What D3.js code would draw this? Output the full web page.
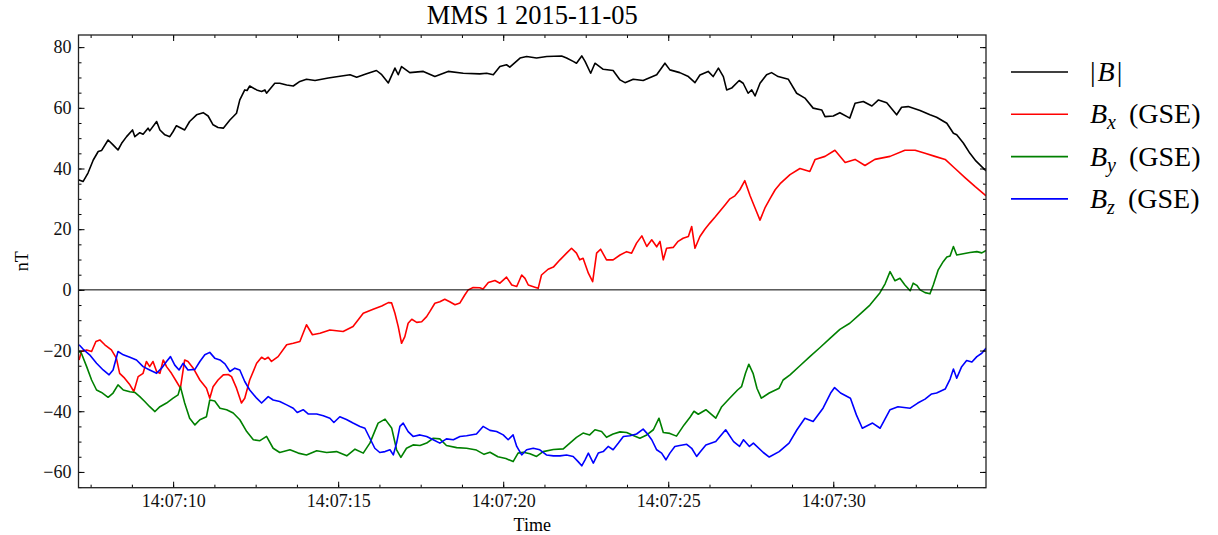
<!DOCTYPE html>
<html>
<head>
<meta charset="utf-8">
<script src="https://cdn.jsdelivr.net/npm/d3@7"></script>
<style>
  body { margin: 0; background: #fff; }
  svg text { font-family: "Liberation Serif", "Times New Roman", serif; fill: #000; }
</style>
</head>
<body>
<div id="chart"></div>
<script>
var width = 1218;
var height = 535;

// [seconds after 14:07:00 UT, nT]
var bTotal = [[7.13,36.3],[7.27,35.7],[7.42,38.5],[7.58,42.8],[7.73,45.6],[7.83,45.9],[8.03,49.4],[8.18,47.8],[8.33,46.1],[8.44,48.3],[8.59,50.5],[8.77,52.7],[8.84,50.5],[8.99,51.8],[9.09,51.3],[9.24,53.3],[9.29,52.4],[9.50,55.5],[9.60,52.7],[9.75,51.1],[9.90,50.5],[10.00,52.2],[10.10,54.1],[10.35,52.7],[10.50,55.5],[10.71,57.7],[10.91,58.4],[11.06,57.3],[11.21,54.4],[11.36,53.5],[11.52,53.3],[11.72,56.0],[11.92,58.2],[12.02,62.6],[12.17,65.9],[12.24,65.7],[12.32,67.2],[12.53,65.9],[12.68,65.4],[12.78,65.9],[12.83,64.8],[13.08,68.1],[13.23,68.1],[13.44,67.5],[13.64,67.2],[13.84,68.7],[14.04,69.4],[14.30,69.0],[14.70,69.8],[14.85,70.1],[15.36,70.9],[15.56,70.1],[15.86,71.2],[16.16,72.3],[16.32,70.9],[16.52,68.2],[16.72,73.1],[16.82,70.9],[16.92,73.6],[17.17,71.6],[17.58,72.0],[17.93,70.3],[18.33,72.0],[18.79,71.4],[19.29,71.2],[19.50,71.4],[19.70,70.9],[19.90,73.6],[20.10,74.2],[20.20,73.4],[20.51,76.4],[20.71,76.9],[21.01,76.4],[21.32,76.9],[21.77,77.1],[21.92,76.4],[22.12,75.3],[22.22,74.7],[22.38,77.1],[22.48,75.3],[22.65,71.4],[22.78,74.7],[23.03,72.7],[23.33,72.3],[23.54,69.2],[23.69,68.3],[23.94,69.4],[24.24,69.0],[24.65,70.9],[24.90,74.7],[25.05,72.5],[25.35,71.6],[25.61,70.3],[25.81,68.3],[25.96,70.8],[26.21,72.0],[26.36,70.3],[26.52,73.1],[26.67,70.3],[26.77,65.9],[26.92,66.5],[27.15,69.0],[27.27,68.1],[27.42,64.8],[27.53,65.9],[27.63,63.9],[27.78,68.1],[27.98,70.9],[28.13,71.6],[28.33,70.3],[28.64,69.4],[28.89,64.8],[29.14,63.2],[29.39,59.9],[29.65,59.3],[29.75,57.1],[30.00,57.3],[30.20,58.4],[30.50,56.6],[30.66,61.5],[30.91,62.1],[31.17,60.6],[31.37,62.6],[31.62,61.7],[31.92,57.7],[32.07,60.2],[32.27,60.4],[32.63,59.1],[32.93,57.7],[33.13,56.9],[33.44,54.9],[33.64,51.6],[33.74,51.1],[33.94,48.4],[34.14,45.0],[34.32,42.5],[34.63,39.2]];

var bX = [[7.15,-23.1],[7.22,-20.3],[7.38,-19.8],[7.53,-20.3],[7.66,-17.0],[7.78,-16.5],[7.93,-18.1],[8.13,-19.8],[8.28,-22.5],[8.38,-27.5],[8.53,-29.1],[8.69,-31.3],[8.81,-33.5],[8.94,-28.6],[9.09,-27.5],[9.19,-23.6],[9.29,-25.3],[9.39,-23.6],[9.50,-26.9],[9.60,-27.5],[9.70,-23.1],[9.80,-25.3],[9.95,-27.5],[10.10,-30.2],[10.22,-32.4],[10.35,-23.1],[10.45,-23.6],[10.61,-25.8],[10.81,-29.7],[11.01,-32.4],[11.11,-35.7],[11.21,-31.9],[11.36,-29.7],[11.52,-28.0],[11.67,-27.9],[11.77,-28.6],[11.92,-32.4],[12.07,-37.3],[12.17,-35.7],[12.32,-29.7],[12.53,-24.2],[12.68,-22.2],[12.78,-22.9],[12.88,-22.2],[12.98,-23.6],[13.18,-22.0],[13.44,-18.1],[13.64,-17.6],[13.84,-17.0],[14.04,-11.5],[14.22,-14.8],[14.45,-14.3],[14.75,-13.2],[15.15,-13.7],[15.45,-12.1],[15.76,-7.7],[16.06,-6.4],[16.32,-5.3],[16.52,-4.2],[16.62,-4.3],[16.72,-7.7],[16.82,-12.1],[16.92,-17.6],[17.02,-15.4],[17.12,-11.0],[17.23,-9.7],[17.38,-10.7],[17.53,-10.5],[17.68,-8.8],[17.78,-7.1],[17.93,-4.4],[18.08,-3.9],[18.23,-3.1],[18.38,-3.9],[18.54,-4.9],[18.69,-4.3],[18.84,-1.6],[18.94,0.0],[19.09,0.8],[19.29,0.7],[19.39,0.3],[19.55,2.4],[19.75,3.1],[19.90,2.2],[20.10,4.2],[20.26,1.6],[20.41,1.1],[20.56,4.9],[20.66,3.8],[20.76,1.6],[20.96,0.9],[21.06,0.5],[21.16,4.9],[21.36,6.8],[21.52,7.5],[21.72,9.9],[21.92,12.1],[22.07,13.7],[22.22,12.1],[22.32,9.9],[22.42,10.4],[22.58,5.5],[22.71,2.7],[22.83,12.1],[22.95,13.4],[23.13,9.9],[23.33,9.9],[23.54,11.5],[23.74,12.6],[23.89,12.1],[24.04,15.4],[24.20,17.8],[24.35,14.3],[24.50,16.5],[24.65,14.2],[24.75,16.0],[24.85,9.9],[24.95,13.7],[25.15,14.0],[25.30,16.0],[25.45,17.0],[25.61,17.6],[25.71,20.9],[25.81,13.7],[25.96,17.6],[26.11,20.0],[26.26,22.0],[26.42,24.0],[26.57,26.0],[26.72,28.0],[26.87,30.0],[27.02,31.0],[27.17,33.0],[27.32,36.0],[27.48,31.0],[27.63,27.0],[27.78,23.0],[27.93,27.0],[28.08,30.0],[28.24,33.0],[28.39,35.0],[28.69,38.0],[28.99,40.0],[29.29,39.0],[29.45,43.0],[29.75,44.0],[30.05,46.0],[30.36,42.0],[30.66,43.0],[30.96,41.0],[31.26,43.0],[31.72,44.0],[32.17,46.0],[32.48,46.0],[32.78,45.0],[33.08,44.0],[33.39,43.0],[33.69,40.0],[33.99,37.0],[34.30,34.0],[34.63,31.0]];

var bY = [[7.15,-20.3],[7.22,-20.9],[7.38,-25.3],[7.53,-29.7],[7.68,-33.0],[7.83,-33.8],[8.03,-35.4],[8.18,-34.0],[8.33,-31.3],[8.49,-33.0],[8.69,-33.6],[8.84,-33.8],[8.99,-35.2],[9.14,-36.8],[9.29,-38.5],[9.45,-40.1],[9.60,-38.5],[9.80,-37.3],[10.00,-35.7],[10.15,-34.6],[10.22,-31.9],[10.35,-37.3],[10.50,-42.3],[10.66,-44.5],[10.81,-42.8],[11.01,-41.8],[11.11,-36.3],[11.26,-36.6],[11.42,-39.0],[11.62,-39.5],[11.82,-40.6],[12.02,-42.8],[12.23,-46.7],[12.43,-49.4],[12.63,-49.7],[12.83,-48.3],[13.03,-52.2],[13.23,-53.6],[13.54,-52.7],[13.79,-53.8],[14.04,-54.4],[14.35,-53.0],[14.65,-53.6],[14.95,-53.3],[15.26,-54.7],[15.51,-52.5],[15.76,-53.8],[15.96,-50.5],[16.21,-43.9],[16.42,-42.6],[16.62,-45.5],[16.77,-52.7],[16.90,-55.2],[17.07,-52.2],[17.27,-51.1],[17.48,-51.3],[17.68,-50.5],[17.88,-48.9],[18.08,-49.1],[18.28,-51.3],[18.59,-52.0],[18.89,-52.2],[19.19,-52.8],[19.42,-54.2],[19.60,-53.5],[19.84,-55.0],[20.08,-55.6],[20.30,-56.6],[20.45,-53.8],[20.61,-53.5],[20.81,-54.0],[21.01,-54.9],[21.21,-53.3],[21.52,-52.6],[21.82,-52.4],[22.02,-50.5],[22.22,-48.6],[22.42,-47.2],[22.62,-47.8],[22.78,-46.1],[22.98,-46.7],[23.13,-48.6],[23.33,-47.5],[23.54,-46.8],[23.74,-47.0],[23.94,-48.0],[24.14,-48.9],[24.35,-47.8],[24.55,-46.1],[24.72,-42.3],[24.85,-47.0],[25.05,-47.3],[25.25,-48.2],[25.48,-44.5],[25.66,-42.0],[25.78,-40.0],[25.91,-41.0],[26.14,-39.5],[26.44,-42.3],[26.62,-38.5],[26.86,-35.7],[27.10,-33.0],[27.22,-31.9],[27.34,-27.5],[27.44,-24.5],[27.57,-27.5],[27.69,-32.5],[27.82,-35.7],[28.06,-34.0],[28.36,-32.4],[28.48,-29.7],[28.69,-28.0],[28.99,-25.0],[29.29,-22.0],[29.60,-19.0],[29.90,-16.0],[30.20,-13.0],[30.50,-11.0],[30.81,-8.0],[31.11,-5.0],[31.41,-1.0],[31.57,2.0],[31.72,6.0],[31.87,3.0],[32.02,3.8],[32.17,1.6],[32.33,-0.3],[32.42,2.2],[32.53,1.5],[32.63,0.0],[32.78,-0.9],[32.93,-1.3],[33.03,1.6],[33.18,6.6],[33.33,9.3],[33.44,10.8],[33.54,11.2],[33.64,14.3],[33.74,11.5],[33.94,11.9],[34.14,12.3],[34.35,12.6],[34.50,12.2],[34.63,13.0]];

var bZ = [[7.15,-18.1],[7.27,-19.5],[7.47,-21.4],[7.68,-24.2],[7.88,-26.4],[8.06,-28.0],[8.18,-26.4],[8.33,-20.3],[8.49,-21.4],[8.69,-22.2],[8.89,-23.1],[9.09,-25.3],[9.29,-26.4],[9.50,-27.5],[9.65,-25.8],[9.80,-23.6],[9.92,-22.0],[10.05,-24.8],[10.18,-26.4],[10.30,-24.2],[10.45,-26.4],[10.66,-26.2],[10.81,-23.6],[10.96,-21.4],[11.11,-20.6],[11.26,-22.5],[11.42,-23.1],[11.57,-24.4],[11.72,-26.9],[11.87,-25.8],[12.02,-26.4],[12.17,-30.2],[12.32,-33.0],[12.53,-35.7],[12.68,-37.3],[12.88,-35.2],[13.03,-36.3],[13.23,-36.8],[13.44,-37.9],[13.64,-39.0],[13.76,-40.4],[13.94,-39.5],[14.09,-40.9],[14.35,-40.9],[14.55,-41.5],[14.75,-42.3],[14.87,-43.7],[15.05,-41.8],[15.25,-42.7],[15.45,-43.9],[15.66,-45.0],[15.81,-45.6],[15.96,-48.9],[16.11,-52.2],[16.26,-53.6],[16.42,-53.3],[16.57,-52.7],[16.67,-54.4],[16.77,-50.5],[16.87,-45.0],[16.97,-43.9],[17.12,-46.7],[17.27,-48.3],[17.48,-47.8],[17.68,-48.3],[17.88,-49.4],[18.08,-50.5],[18.28,-49.1],[18.49,-49.4],[18.69,-48.3],[18.89,-48.1],[19.19,-47.5],[19.39,-45.0],[19.60,-46.3],[19.80,-46.7],[20.00,-47.8],[20.15,-49.4],[20.30,-47.8],[20.41,-51.6],[20.56,-54.4],[20.71,-52.7],[20.91,-52.2],[21.11,-52.7],[21.31,-54.4],[21.52,-54.7],[21.72,-54.7],[21.92,-54.4],[22.12,-54.9],[22.27,-56.6],[22.38,-58.0],[22.48,-56.0],[22.58,-53.8],[22.73,-57.1],[22.88,-53.8],[23.03,-53.3],[23.18,-51.6],[23.33,-52.7],[23.49,-50.5],[23.64,-48.3],[23.84,-48.1],[24.04,-47.5],[24.24,-45.9],[24.35,-47.2],[24.50,-49.4],[24.65,-52.7],[24.80,-53.8],[24.93,-56.0],[25.05,-53.8],[25.20,-51.6],[25.35,-51.3],[25.56,-50.9],[25.71,-52.2],[25.86,-54.9],[25.96,-53.5],[26.14,-51.1],[26.44,-50.0],[26.74,-46.1],[26.98,-50.0],[27.16,-51.6],[27.28,-49.4],[27.46,-51.6],[27.58,-50.5],[27.88,-53.6],[28.06,-55.1],[28.36,-53.3],[28.66,-50.5],[28.90,-46.1],[29.14,-42.3],[29.39,-43.4],[29.69,-39.0],[29.92,-34.0],[30.04,-32.2],[30.22,-34.0],[30.52,-35.7],[30.70,-41.2],[30.88,-45.6],[31.19,-43.9],[31.42,-45.6],[31.72,-39.5],[31.96,-38.5],[32.33,-39.0],[32.56,-37.3],[32.78,-36.0],[32.98,-34.3],[33.13,-34.0],[33.39,-32.7],[33.54,-29.4],[33.64,-26.1],[33.74,-29.1],[33.89,-25.3],[34.04,-23.3],[34.20,-23.8],[34.35,-22.0],[34.50,-20.9],[34.63,-19.2]];

var seriesData = [bTotal, bX, bY, bZ];
var seriesColors = ["#000000", "#ff0000", "#008000", "#0000ff"];
// legend pieces: [before, italic symbol, subscript, after]
var legendLabels = [["|", "B", "", "|"], ["", "B", "x", "(GSE)"], ["", "B", "y", "(GSE)"], ["", "B", "z", "(GSE)"]];
var yMajorTicks = [-60, -40, -20, 0, 20, 40, 60, 80];
var timeRange = [7.133, 34.627];
var yRange = [-65.2, 84];
var titleText = "MMS 1 2015-11-05";

var t0 = Date.UTC(2015, 10, 5, 14, 7, 0);
var toDate = function(s){ return new Date(t0 + s * 1000); };

var plotLeft = 78.5, plotRight = 986, plotTop = 35, plotBottom = 487.7;

var draw = function(){
  var svg = d3.select("#chart").append("svg")
    .attr("width", width)
    .attr("height", height)
    .attr("viewBox", "0 0 " + width + " " + height);

  var x = d3.scaleUtc().domain(timeRange.map(toDate)).range([plotLeft, plotRight]);
  var y = d3.scaleLinear().domain(yRange).range([plotBottom, plotTop]);

  svg.append("clipPath").attr("id", "plotclip")
    .append("rect")
    .attr("x", plotLeft).attr("y", plotTop)
    .attr("width", plotRight - plotLeft).attr("height", plotBottom - plotTop);

  var line = d3.line()
    .x(function(d){ return x(toDate(d[0])); })
    .y(function(d){ return y(d[1]); });

  var lines = svg.append("g").attr("clip-path", "url(#plotclip)");
  seriesData.forEach(function(s, i){
    lines.append("path")
      .datum(s)
      .attr("d", line)
      .style("fill", "none")
      .style("stroke", seriesColors[i])
      .style("stroke-width", 1.6)
      .style("stroke-linejoin", "round");
  });

  // zero line
  svg.append("line")
    .attr("x1", plotLeft).attr("x2", plotRight)
    .attr("y1", y(0)).attr("y2", y(0))
    .style("stroke", "#000").style("stroke-width", 1);

  var majorX = x.ticks(d3.utcSecond.every(5));
  var minorX = x.ticks(d3.utcMillisecond.every(1250));
  var minorY = d3.range(-65, 85, 5).filter(function(v){ return v >= yRange[0] && v <= yRange[1]; });
  var fmt = d3.utcFormat("%H:%M:%S");
  var yfmt = function(v){ return v < 0 ? "\u2212" + Math.abs(v) : "" + v; };

  var addAxis = function(axis, tx, ty){
    var g = svg.append("g").attr("transform", "translate(" + tx + "," + ty + ")").call(axis);
    g.select(".domain").remove();
    g.selectAll(".tick line").style("stroke", "#000").style("stroke-width", 1);
    g.selectAll("text").style("font-size", "18px").style("font-family", "Liberation Serif, serif").style("fill", "#111");
    return g;
  };

  // bottom
  addAxis(d3.axisBottom(x).tickValues(minorX).tickSize(-3).tickFormat(""), 0, plotBottom);
  addAxis(d3.axisBottom(x).tickValues(majorX).tickSize(-6).tickPadding(7).tickFormat(fmt), 0, plotBottom);
  // top
  addAxis(d3.axisTop(x).tickValues(minorX).tickSize(-3).tickFormat(""), 0, plotTop);
  addAxis(d3.axisTop(x).tickValues(majorX).tickSize(-6).tickFormat(""), 0, plotTop);
  // left
  addAxis(d3.axisLeft(y).tickValues(minorY).tickSize(-3).tickFormat(""), plotLeft, 0);
  addAxis(d3.axisLeft(y).tickValues(yMajorTicks).tickSize(-6).tickPadding(7).tickFormat(yfmt), plotLeft, 0);
  // right
  addAxis(d3.axisRight(y).tickValues(minorY).tickSize(-3).tickFormat(""), plotRight, 0);
  addAxis(d3.axisRight(y).tickValues(yMajorTicks).tickSize(-6).tickFormat(""), plotRight, 0);

  // frame
  svg.append("rect")
    .attr("x", plotLeft).attr("y", plotTop)
    .attr("width", plotRight - plotLeft).attr("height", plotBottom - plotTop)
    .style("fill", "none").style("stroke", "#222").style("stroke-width", 1.3);

  svg.append("text")
    .attr("x", (plotLeft + plotRight) / 2).attr("y", 24)
    .attr("text-anchor", "middle")
    .style("font-size", "26.5px")
    .text(titleText);

  svg.append("text")
    .attr("x", (plotLeft + plotRight) / 2).attr("y", 531)
    .attr("text-anchor", "middle")
    .style("font-size", "18px")
    .text("Time");

  svg.append("text")
    .attr("transform", "translate(28," + (plotTop + plotBottom) / 2 + ") rotate(-90)")
    .attr("text-anchor", "middle")
    .style("font-size", "18px")
    .text("nT");

  var leg = svg.append("g");
  legendLabels.forEach(function(p, i){
    var ly = 72 + i * 42.3;
    leg.append("line")
      .attr("x1", 1011).attr("x2", 1068)
      .attr("y1", ly).attr("y2", ly)
      .style("stroke", seriesColors[i]).style("stroke-width", 1.6);
    var t = leg.append("text").attr("x", 1090).attr("y", ly + 9).style("font-size", "28px");
    if (p[0]) t.append("tspan").text(p[0]);
    t.append("tspan").style("font-style", "italic").attr("dx", p[0] ? 2 : 0).text(p[1]);
    if (p[2]) {
      t.append("tspan").attr("dy", 6).style("font-style", "italic").style("font-size", "20px").text(p[2]);
      t.append("tspan").attr("dy", -6).attr("dx", 13).text(p[3]);
    } else {
      t.append("tspan").attr("dx", 2).text(p[3]);
    }
  });
};

draw();
</script>
</body>
</html>
